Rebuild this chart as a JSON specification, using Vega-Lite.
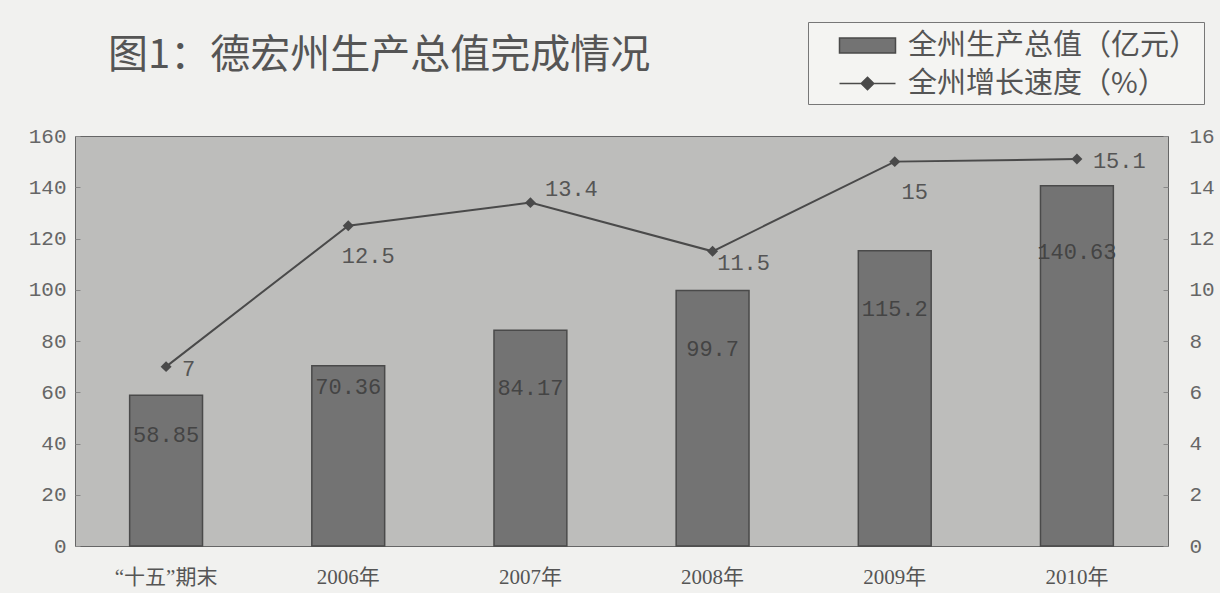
{
  "$schema": "https://vega.github.io/schema/vega-lite/v6.json",
  "width": 1093,
  "height": 410,
  "autosize": "none",
  "padding": {"left": 75, "top": 136, "right": 52, "bottom": 47},
  "background": "#f1f1ef",
  "title": {
    "text": "图1：德宏州生产总值完成情况",
    "anchor": "start",
    "frame": "group",
    "dx": 33,
    "offset": 0,
    "dy": 54,
    "fontSize": 40,
    "font": "Noto Sans CJK SC",
    "fontWeight": "normal",
    "color": "#555555"
  },
  "config": {
    "view": {"fill": "#bdbdbb", "stroke": "#666666", "strokeWidth": 1},
    "axis": {
      "labelFont": "Liberation Mono",
      "labelFontSize": 21,
      "labelColor": "#666666",
      "domain": false,
      "grid": false,
      "title": null
    },
    "legend": {
      "orient": "none",
      "legendX": 733,
      "legendY": -114,
      "direction": "vertical",
      "strokeColor": "#777777",
      "fillColor": "#f4f4f2",
      "padding": 5,
      "symbolSize": 1225,
      "symbolOffset": 36,
      "symbolOpacity": 1,
      "labelOffset": 22,
      "rowPadding": 4,
      "labelFont": "Noto Sans CJK SC",
      "labelFontSize": 29,
      "labelColor": "#555555",
      "labelLimit": 400
    }
  },
  "data": {
    "values": [
      {"period": "“十五”期末", "gdp": 58.85, "growth": 7},
      {"period": "2006年", "gdp": 70.36, "growth": 12.5},
      {"period": "2007年", "gdp": 84.17, "growth": 13.4},
      {"period": "2008年", "gdp": 99.7, "growth": 11.5},
      {"period": "2009年", "gdp": 115.2, "growth": 15},
      {"period": "2010年", "gdp": 140.63, "growth": 15.1}
    ]
  },
  "encoding": {
    "x": {
      "field": "period",
      "type": "nominal",
      "sort": null,
      "scale": {"paddingInner": 0.6, "paddingOuter": 0.3},
      "axis": {
        "labelAngle": 0,
        "ticks": false,
        "labelPadding": 20,
        "labelFont": "Liberation Serif, Noto Sans CJK SC",
        "labelFontSize": 21,
        "labelColor": "#555555"
      }
    }
  },
  "layer": [
    {
      "encoding": {
        "y": {
          "field": "gdp",
          "type": "quantitative",
          "scale": {"domain": [0, 160]},
          "axis": {
            "orient": "left",
            "values": [0, 20, 40, 60, 80, 100, 120, 140, 160],
            "ticks": true,
            "tickSize": -5,
            "tickColor": "#888888",
            "labelPadding": 14
          }
        }
      },
      "layer": [
        {
          "mark": {"type": "bar", "stroke": "#4a4a4a", "strokeWidth": 1.5},
          "encoding": {
            "color": {
              "datum": "全州生产总值（亿元）",
              "scale": {
                "domain": ["全州生产总值（亿元）", "全州增长速度（%）"],
                "range": ["#737373", "#4a4a4a"]
              },
              "legend": {"title": null}
            }
          }
        },
        {
          "transform": [{"filter": "datum.gdp === 58.85"}],
          "mark": {"type": "text", "font": "Liberation Mono", "fontSize": 22, "color": "#444444", "baseline": "middle", "dy": 40},
          "encoding": {"text": {"field": "gdp", "type": "quantitative"}}
        },
        {
          "transform": [{"filter": "datum.gdp === 70.36"}],
          "mark": {"type": "text", "font": "Liberation Mono", "fontSize": 22, "color": "#444444", "baseline": "middle", "dy": 21},
          "encoding": {"text": {"field": "gdp", "type": "quantitative"}}
        },
        {
          "transform": [{"filter": "datum.gdp > 80 && datum.gdp < 120"}],
          "mark": {"type": "text", "font": "Liberation Mono", "fontSize": 22, "color": "#444444", "baseline": "middle", "dy": 58},
          "encoding": {"text": {"field": "gdp", "type": "quantitative"}}
        },
        {
          "transform": [{"filter": "datum.gdp === 140.63"}],
          "mark": {"type": "text", "font": "Liberation Mono", "fontSize": 22, "color": "#444444", "baseline": "middle", "dy": 66},
          "encoding": {"text": {"field": "gdp", "type": "quantitative"}}
        }
      ]
    },
    {
      "encoding": {
        "y": {
          "field": "growth",
          "type": "quantitative",
          "scale": {"domain": [0, 16]},
          "axis": {
            "orient": "right",
            "values": [0, 2, 4, 6, 8, 10, 12, 14, 16],
            "ticks": true,
            "tickSize": -5,
            "tickColor": "#888888",
            "labelPadding": 26,
            "labelAlign": "left"
          }
        }
      },
      "layer": [
        {
          "mark": {"type": "line", "strokeWidth": 2, "color": "#4a4a4a"}
        },
        {
          "mark": {"type": "point", "shape": "diamond", "filled": true, "size": 120, "color": "#4a4a4a", "opacity": 1}
        },
        {
          "mark": {"type": "point", "filled": true, "color": "#4a4a4a", "stroke": "#4a4a4a", "strokeWidth": 2, "opacity": 0},
          "encoding": {
            "shape": {
              "datum": "全州增长速度（%）",
              "scale": {
                "domain": ["全州生产总值（亿元）", "全州增长速度（%）"],
                "range": ["M-1.6,-0.43H1.6V0.43H-1.6Z", "M-1.6,0H1.6M0,-0.36L0.36,0L0,0.36L-0.36,0Z"]
              },
              "legend": {"title": null}
            }
          }
        },
        {
          "transform": [{"filter": "datum.growth === 7 || datum.growth === 15.1"}],
          "mark": {"type": "text", "font": "Liberation Mono", "fontSize": 22, "color": "#555555", "align": "left", "baseline": "middle", "dx": 16, "dy": 2},
          "encoding": {"text": {"field": "growth", "type": "quantitative"}}
        },
        {
          "transform": [{"filter": "datum.growth === 12.5 || datum.growth === 15"}],
          "mark": {"type": "text", "font": "Liberation Mono", "fontSize": 22, "color": "#555555", "align": "center", "baseline": "middle", "dx": 20, "dy": 30},
          "encoding": {"text": {"field": "growth", "type": "quantitative"}}
        },
        {
          "transform": [{"filter": "datum.growth === 13.4"}],
          "mark": {"type": "text", "font": "Liberation Mono", "fontSize": 22, "color": "#555555", "align": "center", "baseline": "middle", "dx": 41, "dy": -14},
          "encoding": {"text": {"field": "growth", "type": "quantitative"}}
        },
        {
          "transform": [{"filter": "datum.growth === 11.5"}],
          "mark": {"type": "text", "font": "Liberation Mono", "fontSize": 22, "color": "#555555", "align": "center", "baseline": "middle", "dx": 31, "dy": 12},
          "encoding": {"text": {"field": "growth", "type": "quantitative"}}
        }
      ]
    }
  ],
  "resolve": {"scale": {"y": "independent"}}
}
